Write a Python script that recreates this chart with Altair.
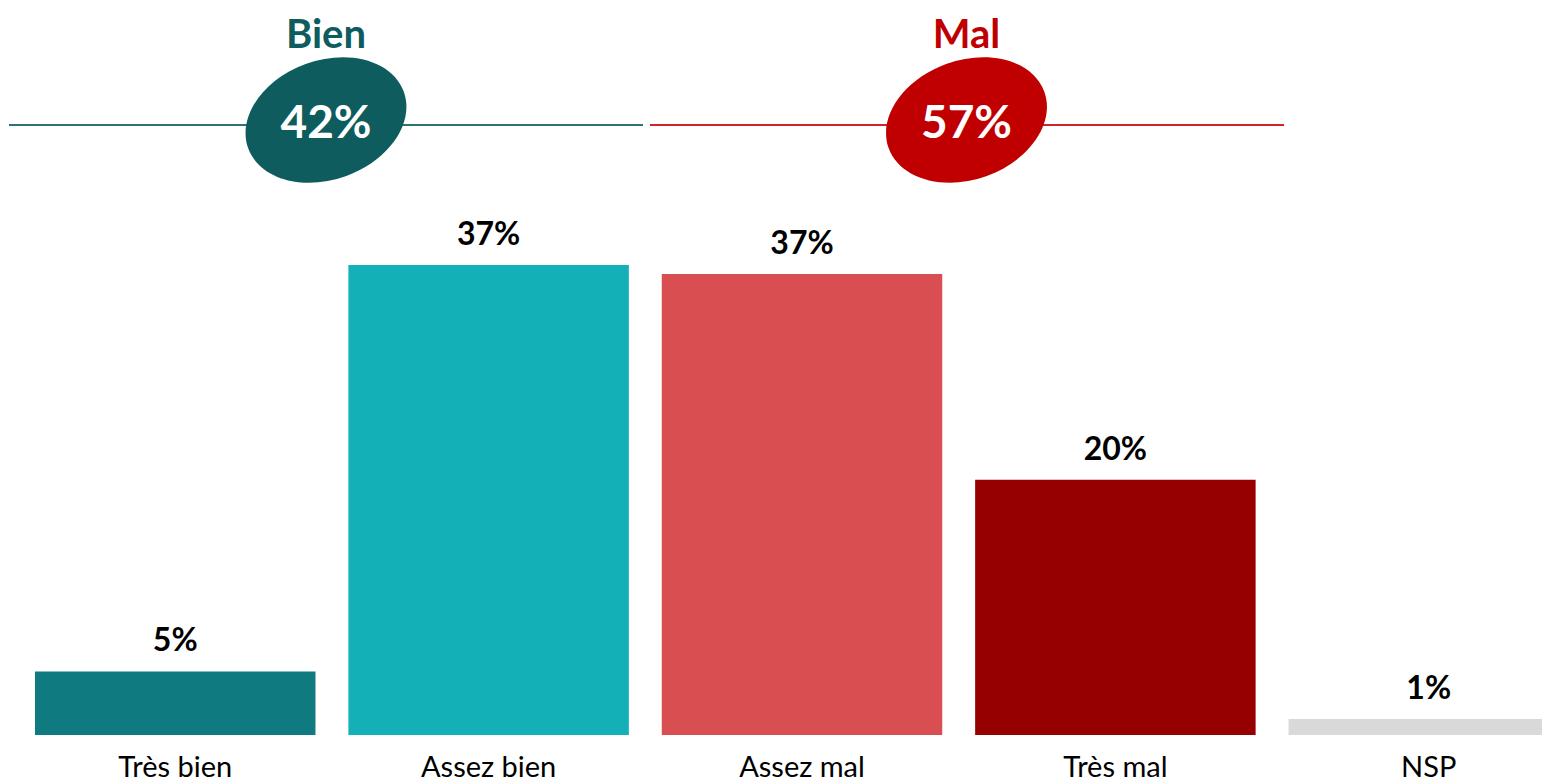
import altair as alt
import pandas as pd

# ---------------- data ----------------
categories = ["Très bien", "Assez bien", "Assez mal", "Très mal", "NSP"]
values = [5.0, 37.0, 36.3, 20.1, 1.26]
value_labels = ["5%", "37%", "37%", "20%", "1%"]
bar_colors = ["#0f7a80", "#14b0b8", "#d94f51", "#960000", "#d9d9d9"]

groups = ["Bien", "Mal"]
group_totals = ["42%", "57%"]
group_colors = ["#0e5c5e", "#c00000"]
group_line_colors = ["#2f7273", "#d0232a"]

# ---------------- layout ----------------
FONT = "Lato"
W, H = 1534, 727
Y_MAX = 57.24
ann_layout = {
    "Bien": dict(cx=318, x1=1, x2=635),
    "Mal": dict(cx=958.5, x1=642, x2=1276),
}
LINE_Y = 117
ELLIPSE_Y = 112
TITLE_BASE = 40
TOTAL_BASE = 130
ELLIPSE_PATH = "M -1 0 A 1 0.72 0 1 0 1 0 A 1 0.72 0 1 0 -1 0 Z"

df = pd.DataFrame({"category": categories, "value": values, "label": value_labels})
ann = pd.DataFrame({"group": groups, "total": group_totals})

x_enc = alt.X(
    "category:N",
    sort=categories,
    scale=alt.Scale(range=[27, 1561], paddingInner=0.105, paddingOuter=0),
    axis=alt.Axis(
        title=None, labelAngle=0, domain=False, ticks=False, tickSize=0, grid=False,
        labelFontSize=29, labelFont=FONT, labelColor="black", labelPadding=41,
        labelBaseline="alphabetic",
    ),
)
y_enc = alt.Y("value:Q", scale=alt.Scale(domain=[0, Y_MAX], nice=False, zero=True), axis=None)

base = alt.Chart(df)
bars = base.mark_bar(clip=True).encode(
    x=x_enc,
    y=y_enc,
    color=alt.Color("category:N", scale=alt.Scale(domain=categories, range=bar_colors), legend=None),
)
labels = base.mark_text(
    baseline="alphabetic", dy=-20, fontSize=32, fontWeight="bold", font=FONT, color="black"
).encode(x=x_enc, y=y_enc, text="label:N")

layers = [bars, labels]
for g, gc, lc in zip(groups, group_colors, group_line_colors):
    lay = ann_layout[g]
    a = alt.Chart(ann).transform_filter(alt.datum.group == g)
    rule = a.mark_rule(color=lc, strokeWidth=2).encode(
        x=alt.value(lay["x1"]), x2=alt.value(lay["x2"]), y=alt.value(LINE_Y)
    )
    ell = a.mark_point(
        shape=ELLIPSE_PATH, size=27420, angle=340, filled=True, opacity=1, color=gc, strokeWidth=0
    ).encode(x=alt.value(lay["cx"]), y=alt.value(ELLIPSE_Y))
    title = a.mark_text(
        baseline="alphabetic", fontSize=40, fontWeight="bold", font=FONT, color=gc
    ).encode(x=alt.value(lay["cx"]), y=alt.value(TITLE_BASE), text="group:N")
    total = a.mark_text(
        baseline="alphabetic", fontSize=46, fontWeight="bold", font=FONT, color="white"
    ).encode(x=alt.value(lay["cx"]), y=alt.value(TOTAL_BASE), text="total:N")
    layers += [rule, ell, title, total]

chart = alt.layer(*layers).properties(
    width=W,
    height=H,
    autosize=alt.AutoSizeParams(type="none"),
    padding={"left": 0, "top": 0, "right": 0, "bottom": 47},
    background="white",
).configure_view(stroke=None)

chart.save("out.html", embed_options={"renderer": "svg", "actions": False})
